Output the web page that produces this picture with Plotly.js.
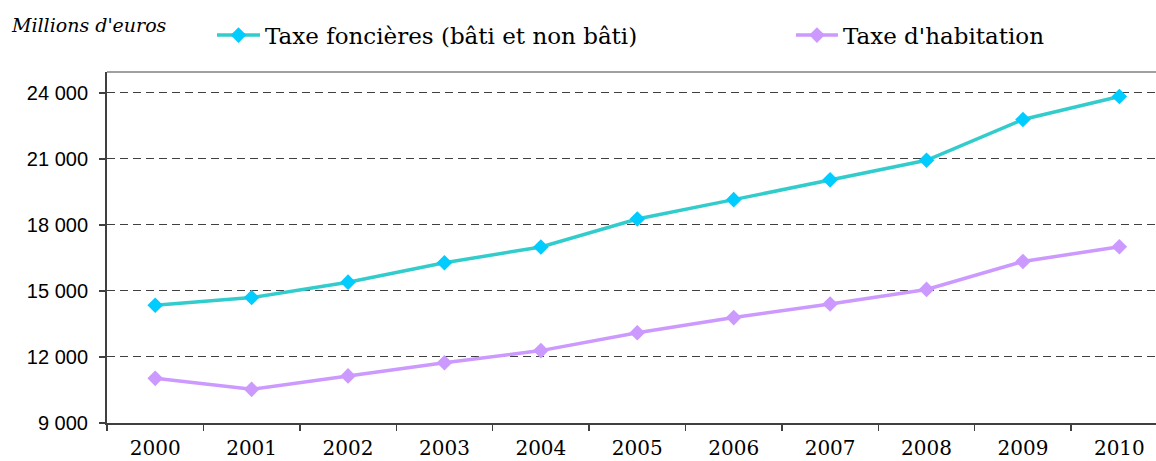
<!DOCTYPE html>
<html>
<head>
<meta charset="utf-8">
<script src="https://cdn.plot.ly/plotly-3.0.1.min.js"></script>
<style>html,body{margin:0;padding:0;background:#fff;}#chart{width:1156px;height:461px;}</style>
</head>
<body>
<div id="chart"></div>
<script>
const years = ["2000","2001","2002","2003","2004","2005","2006","2007","2008","2009","2010"];
const taxeFonciere = [14350, 14700, 15400, 16280, 17000, 18270, 19150, 20050, 20940, 22790, 23840];
const taxeHabitation = [11030, 10530, 11140, 11740, 12290, 13100, 13790, 14410, 15070, 16340, 17010];
const yTickVals = [9000, 12000, 15000, 18000, 21000, 24000];
const yTickText = ["9 000", "12 000", "15 000", "18 000", "21 000", "24 000"];
const seriesNames = ["Taxe foncières (bâti et non bâti)", "Taxe d'habitation"];
const unitLabel = "Millions d'euros";

const traces = [
  {
    x: years, y: taxeFonciere, name: seriesNames[0], type: "scatter", mode: "lines+markers",
    line: {color: "#33CCCC", width: 3.5},
    marker: {symbol: "diamond", size: 12, color: "#00CCFF"},
    legend: "legend"
  },
  {
    x: years, y: taxeHabitation, name: seriesNames[1], type: "scatter", mode: "lines+markers",
    line: {color: "#CC99FF", width: 3.5},
    marker: {symbol: "diamond", size: 12, color: "#CC99FF"},
    legend: "legend2"
  }
];

const legendFont = {family: "DejaVu Serif", size: 23, color: "#000"};
const layout = {
  width: 1156, height: 461,
  margin: {l: 107, r: 0, t: 72, b: 38},
  paper_bgcolor: "#fff", plot_bgcolor: "#fff",
  showlegend: true,
  legend: {
    orientation: "h", x: 0.1001, xanchor: "left", y: 1.105, yanchor: "middle",
    font: legendFont, itemwidth: 43, bgcolor: "rgba(0,0,0,0)"
  },
  legend2: {
    orientation: "h", x: 0.652, xanchor: "left", y: 1.105, yanchor: "middle",
    font: legendFont, itemwidth: 42, bgcolor: "rgba(0,0,0,0)"
  },
  xaxis: {
    type: "category", range: [-0.5, 10.38],
    showline: true, linecolor: "#404040", linewidth: 1.5,
    ticks: "outside", tickson: "boundaries", ticklen: 6, tickcolor: "#404040", tickwidth: 1.5,
    ticklabelstandoff: 6,
    showgrid: false,
    tickfont: {family: "DejaVu Serif", size: 20, color: "#000"},
    fixedrange: true
  },
  yaxis: {
    range: [9000, 24950],
    tickvals: yTickVals, ticktext: yTickText,
    showline: true, linecolor: "#404040", linewidth: 2,
    ticks: "outside", ticklen: 6, tickcolor: "#404040", tickwidth: 1.5,
    ticklabelstandoff: 7,
    showgrid: true, gridcolor: "#404040", gridwidth: 1, griddash: "8px,5px",
    zeroline: false,
    tickfont: {family: "Liberation Sans", size: 20, color: "#000"},
    fixedrange: true
  },
  shapes: [
    {type: "line", xref: "paper", yref: "paper", x0: 0, x1: 1, y0: 1, y1: 1,
     line: {color: "#808080", width: 1.5}}
  ],
  annotations: [
    {text: unitLabel, xref: "paper", yref: "paper", x: -0.093, y: 1.134, xanchor: "left", yanchor: "middle",
     showarrow: false, font: {family: "DejaVu Serif", size: 19, color: "#000", style: "italic"}}
  ]
};

Plotly.newPlot("chart", traces, layout, {displayModeBar: false, staticPlot: true});
</script>
</body>
</html>
